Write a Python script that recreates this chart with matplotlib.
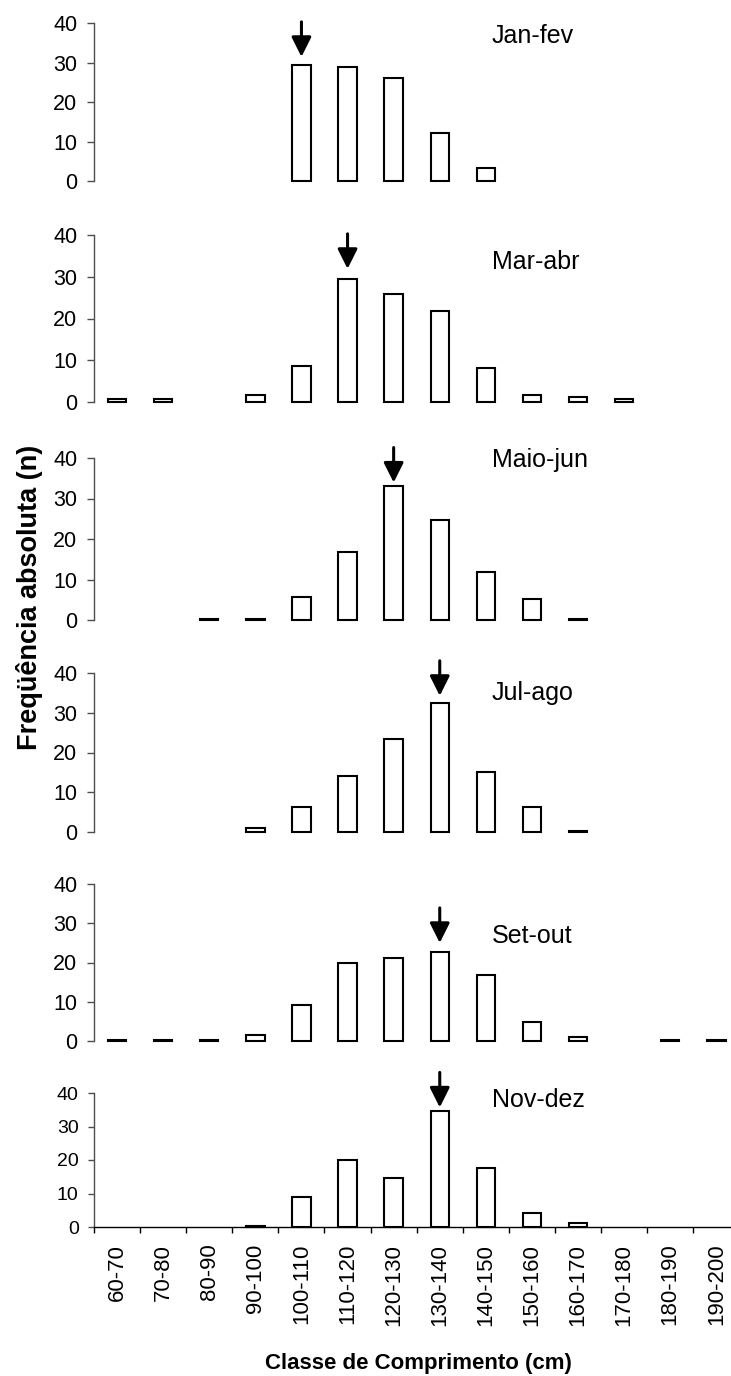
import numpy as np
import matplotlib
matplotlib.use('Agg')
import matplotlib.pyplot as plt
import matplotlib.transforms as mtransforms

plt.rcParams['font.family'] = ['Liberation Sans', 'DejaVu Sans']

# ---------------- data ----------------
categories = ['60-70', '70-80', '80-90', '90-100', '100-110', '110-120', '120-130',
              '130-140', '140-150', '150-160', '160-170', '170-180', '180-190', '190-200']
periods = ['Jan-fev', 'Mar-abr', 'Maio-jun', 'Jul-ago', 'Set-out', 'Nov-dez']
nan = np.nan
jan_fev = [nan, nan, nan, nan, 29.4, 28.9, 26.2, 12.2, 3.2, nan, nan, nan, nan, nan]
mar_abr = [0.6, 0.6, nan, 1.6, 8.7, 29.5, 25.9, 21.9, 8.2, 1.6, 1.1, 0.6, nan, nan]
maio_jun = [nan, nan, 0.2, 0.2, 5.8, 16.8, 33.2, 24.7, 11.9, 5.3, 0.2, nan, nan, nan]
jul_ago = [nan, nan, nan, 1.0, 6.2, 14.2, 23.4, 32.5, 15.2, 6.2, 0.2, nan, nan, nan]
set_out = [0.2, 0.2, 0.2, 1.6, 9.2, 20.0, 21.2, 22.7, 16.9, 4.9, 0.9, nan, 0.2, 0.2]
nov_dez = [nan, nan, nan, 0.4, 9.0, 20.0, 14.5, 34.5, 17.6, 4.3, 1.2, nan, nan, nan]
series = [jan_fev, mar_abr, maio_jun, jul_ago, set_out, nov_dez]
mode_class = ['100-110', '110-120', '120-130', '130-140', '130-140', '130-140']
yticks = [0, 10, 20, 30, 40]

# ---------------- layout (pixels) ----------------
W, H = 731, 1376
fig = plt.figure(figsize=(W / 100, H / 100), dpi=100)
panel_px = [(23, 181), (235, 402), (458, 620), (673, 832), (884, 1041), (1093, 1227)]
left_px, cat_px = 94, 46.1
title_x_px = 492
title_base_px = [43, 269, 467, 700, 943, 1107]
arrow_gap_px = [8, 10, 3, 7, 9, 4]
arrow_len_px = 35
spine_col = '#4d4d4d'

x = np.arange(len(categories))
for i, (name, vals) in enumerate(zip(periods, series)):
    y40, y0 = panel_px[i]
    ax = fig.add_axes([left_px / W, 1 - y0 / H, len(categories) * cat_px / W, (y0 - y40) / H])
    ax.bar(x, vals, width=0.4, facecolor='white', edgecolor='black', linewidth=1.5,
           clip_on=False, zorder=3)
    ax.set_xlim(-0.5, len(categories) - 0.5)
    ax.set_ylim(0, 40)
    ax.set_yticks(yticks)
    for s in ['top', 'right']:
        ax.spines[s].set_visible(False)
    ax.spines['left'].set_color(spine_col)
    ax.spines['left'].set_linewidth(1.0)
    last = (i == len(periods) - 1)
    ax.tick_params(axis='y', direction='out', length=5 if not last else 4, width=1,
                   color=spine_col, pad=7, labelsize=15.5 if not last else 14)
    if not last:
        ax.spines['bottom'].set_visible(False)
        ax.set_xticks([])
    else:
        ax.spines['bottom'].set_color('black')
        ax.spines['bottom'].set_linewidth(1.0)
        ax.set_xticks(x)
        ax.set_xticklabels(categories, rotation=90, fontsize=16)
        ax.tick_params(axis='x', which='major', length=0, pad=12)
        ax.set_xticks(np.arange(-0.5, len(categories), 1.0), minor=True)
        ax.tick_params(axis='x', which='minor', length=4, width=1, color='black', direction='out')
    ax.patch.set_alpha(0)

    # arrow over the modal class
    idx = categories.index(mode_class[i])
    tr = mtransforms.offset_copy(ax.transData, fig=fig, x=0, y=arrow_gap_px[i], units='dots')
    ax.annotate('', xy=(idx, vals[idx]), xycoords=tr,
                xytext=(0, arrow_len_px), textcoords='offset pixels',
                arrowprops=dict(arrowstyle='-|>,head_length=1.0,head_width=0.5',
                                mutation_scale=12, lw=2.2, color='black',
                                shrinkA=0, shrinkB=0),
                annotation_clip=False)

    fig.text(title_x_px / W, 1 - title_base_px[i] / H, name, fontsize=18,
             ha='left', va='baseline')

fig.text(30 / W, 1 - 597 / H, 'Freqüência absoluta (n)', rotation=90, fontsize=19.5,
         fontweight='bold', ha='center', va='center')
fig.text(418 / W, 1 - 1369 / H, 'Classe de Comprimento (cm)', fontsize=16,
         fontweight='bold', ha='center', va='baseline')

fig.savefig('out.png', dpi=100, facecolor='white')
